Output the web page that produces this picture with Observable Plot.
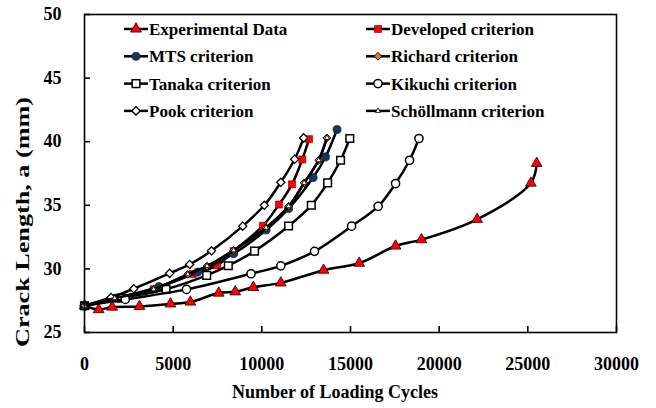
<!DOCTYPE html>
<html>
<head>
<meta charset="utf-8">
<script src="https://cdn.jsdelivr.net/npm/d3@7"></script>
<script src="https://cdn.jsdelivr.net/npm/@observablehq/plot@0.6"></script>
<style>
  body { margin: 0; background: #fff; }
  #chart { width: 656px; height: 408px; }
  #chart svg, #chart svg text {
    font-family: "Liberation Serif", "Times New Roman", serif !important;
    font-weight: bold !important;
  }
</style>
</head>
<body>
<div id="chart"></div>
<script>
// Crack length (mm) against number of loading cycles for each criterion
const expN = [0, 800, 1560, 3100, 4850, 5970, 7570, 8500, 9520, 11070, 13480, 15490, 17540, 19000, 22140, 25170, 25500];
const expA = [27.1, 26.8, 27.0, 27.05, 27.25, 27.4, 28.1, 28.2, 28.55, 28.9, 29.9, 30.45, 31.8, 32.3, 33.9, 36.75, 38.3];

const devN = [0, 1700, 3900, 6100, 7480, 8410, 10060, 10970, 11700, 12280, 12660];
const devA = [27.1, 27.7, 28.4, 29.6, 30.28, 31.4, 33.39, 35.06, 36.65, 38.6, 40.2];

const mtsN = [0, 1800, 4200, 6380, 8410, 10240, 11510, 12890, 13590, 14240];
const mtsA = [27.1, 27.7, 28.6, 29.75, 31.2, 33.06, 34.74, 37.18, 38.8, 40.96];

const ricN = [0, 1700, 3900, 5820, 6910, 8410, 10240, 11510, 12390, 13200, 13670];
const ricA = [27.1, 27.7, 28.4, 29.57, 30.22, 31.46, 33.24, 34.92, 36.76, 38.54, 40.3];

const tanN = [0, 2100, 4600, 6890, 8110, 9590, 11510, 12790, 13710, 14440, 14960];
const tanA = [27.1, 27.7, 28.4, 29.49, 30.25, 31.4, 33.37, 35.0, 36.76, 38.54, 40.25];

const kikN = [0, 2300, 5750, 9390, 11070, 12970, 15060, 16560, 17540, 18330, 18860];
const kikA = [27.1, 27.6, 28.39, 29.62, 30.24, 31.38, 33.36, 34.92, 36.71, 38.54, 40.25];

const pooN = [0, 1500, 2780, 4800, 5930, 7160, 8920, 10140, 11070, 11850, 12360];
const pooA = [27.1, 27.75, 28.44, 29.65, 30.35, 31.42, 33.36, 35.0, 36.81, 38.62, 40.3];

const schN = [0, 1700, 3900, 5820, 6910, 8410, 10240, 11510, 12390, 13200, 13670];
const schA = [27.1, 27.7, 28.4, 29.57, 30.22, 31.46, 33.24, 34.92, 36.76, 38.54, 40.3];

const xTicks = [0, 5000, 10000, 15000, 20000, 25000, 30000];
const yTicks = [25, 30, 35, 40, 45, 50];

const xTitle = "Number of Loading Cycles";
const yTitle = "Crack Length, a (mm)";

// series drawn in legend order; later series sit on top
const series = [
  {name: "Experimental Data", N: expN, A: expA, symbol: "triangle", fill: "#ff0000", stroke: "#2a0000", r: 4.0, sw: 0.8},
  {name: "Developed criterion", N: devN, A: devA, symbol: "square", fill: "#ff0000", stroke: "#7a0000", r: 4.0, sw: 0.6},
  {name: "MTS criterion", N: mtsN, A: mtsA, symbol: "circle", fill: "#17365d", stroke: "#0b1a30", r: 4.1, sw: 0.6},
  {name: "Richard criterion", N: ricN, A: ricA, symbol: "diamond2", fill: "#e47b1c", stroke: "#000", r: 3.5, sw: 1},
  {name: "Tanaka criterion", N: tanN, A: tanA, symbol: "square", fill: "#fff", stroke: "#000", r: 4.3, sw: 1.5},
  {name: "Kikuchi criterion", N: kikN, A: kikA, symbol: "circle", fill: "#fff", stroke: "#000", r: 4.1, sw: 1.5},
  {name: "Pook criterion", N: pooN, A: pooA, symbol: "diamond2", fill: "#fff", stroke: "#000", r: 3.7, sw: 1.3},
  {name: "Schöllmann criterion", N: schN, A: schA, symbol: "triangle", fill: "#fff", stroke: "#000", r: 1.9, sw: 0.8}
];

const rows = s => s.N.map((n, i) => ({N: n, a: s.A[i]}));

const marks = [];
for (const s of series) {
  marks.push(Plot.line(rows(s), {x: "N", y: "a", curve: "catmull-rom", stroke: "#000", strokeWidth: 2.5}));
  marks.push(Plot.dot(rows(s), {x: "N", y: "a", symbol: s.symbol, r: s.r, fill: s.fill, stroke: s.stroke, strokeWidth: s.sw}));
}

const plot = Plot.plot({
  width: 656,
  height: 408,
  marginLeft: 84,
  marginRight: 40,
  marginTop: 14,
  marginBottom: 76,
  style: {fontFamily: "Liberation Serif, serif", fontWeight: "bold", fontSize: "18px", color: "#000", background: "#fff"},
  x: {domain: [0, 30000]},
  y: {domain: [25, 50]},
  marks: [
    ...marks,
    Plot.frame({stroke: "#000", strokeWidth: 1.6}),
    Plot.axisX({ticks: xTicks, tickSize: -6, tickPadding: 31, tickFormat: d3.format("d"), label: null, strokeWidth: 1.6}),
    Plot.axisY({ticks: yTicks, tickSize: -6, tickPadding: 29, tickFormat: d3.format("d"), label: null, strokeWidth: 1.6})
  ]
});

const svg = d3.select(plot);

// axis titles
svg.append("text").attr("x", 335).attr("y", 398).attr("text-anchor", "middle")
  .attr("font-size", 18).attr("fill", "#000").text(xTitle);
svg.append("text").attr("transform", "translate(29,222) rotate(-90)").attr("text-anchor", "middle")
  .attr("font-size", 18).attr("fill", "#000")
  .attr("textLength", 250).attr("lengthAdjust", "spacingAndGlyphs").text(yTitle);

// legend in two columns inside the frame
const leg = svg.append("g").attr("font-size", 17).attr("text-anchor", "start");
const colX = [124, 366];
const symbols = {triangle: d3.symbolTriangle, square: d3.symbolSquare, circle: d3.symbolCircle, diamond2: d3.symbolDiamond2};
series.forEach((s, i) => {
  const x0 = colX[i % 2];
  const y0 = 29 + Math.floor(i / 2) * 27.3;
  leg.append("line").attr("x1", x0).attr("x2", x0 + 24).attr("y1", y0).attr("y2", y0)
    .attr("stroke", "#000").attr("stroke-width", 2.5);
  leg.append("path").attr("transform", `translate(${x0 + 12},${y0})`)
    .attr("d", d3.symbol(symbols[s.symbol], Math.PI * s.r * s.r)())
    .attr("fill", s.fill).attr("stroke", s.stroke).attr("stroke-width", s.sw);
  leg.append("text").attr("x", x0 + 25).attr("y", y0).attr("dy", "0.35em").attr("fill", "#000").text(s.name);
});

document.getElementById("chart").appendChild(plot);
</script>
</body>
</html>
